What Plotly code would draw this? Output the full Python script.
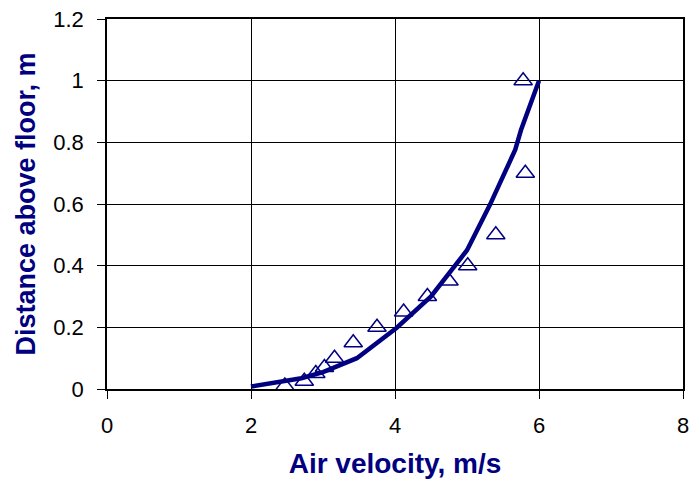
import plotly.graph_objects as go

# Model curve (line)
model_v = [2.0, 2.7, 3.0, 3.47, 4.02, 4.5, 5.0, 5.32, 5.67, 5.75, 6.0]
model_h = [0.008, 0.035, 0.055, 0.10, 0.198, 0.30, 0.45, 0.598, 0.776, 0.84, 1.0]

# Measured points (triangles)
meas_v = [2.47, 2.74, 2.90, 3.02, 3.16, 3.42, 3.75, 4.12, 4.45, 4.75, 5.01, 5.40, 5.81, 5.78]
meas_h = [0.01, 0.025, 0.05, 0.07, 0.10, 0.15, 0.20, 0.25, 0.30, 0.35, 0.40, 0.50, 0.70, 1.00]

x_ticks = [0, 2, 4, 6, 8]
y_ticks = [0, 0.2, 0.4, 0.6, 0.8, 1, 1.2]
y_tick_text = ["0", "0.2", "0.4", "0.6", "0.8", "1", "1.2"]

navy = "#000080"

fig = go.Figure()
fig.add_trace(go.Scatter(x=model_v, y=model_h, mode="lines",
                         line=dict(color=navy, width=4.5), showlegend=False))
fig.add_trace(go.Scatter(x=meas_v, y=meas_h, mode="markers",
                         marker=dict(symbol="triangle-up-open", size=16,
                                     color=navy, line=dict(width=1.5, color=navy)),
                         showlegend=False))

fig.update_layout(
    width=691, height=480,
    margin=dict(l=107, r=8, t=19, b=91),
    plot_bgcolor="white", paper_bgcolor="white",
    font=dict(family="Arial, Liberation Sans, sans-serif", size=22, color="black"),
)
fig.update_xaxes(
    range=[0, 8], tickvals=x_ticks, ticktext=[str(t) for t in x_ticks],
    tickfont=dict(size=22, color="black"), ticklabelstandoff=8,
    automargin=False,
    showgrid=True, gridcolor="black", gridwidth=1,
    showline=True, linecolor="black", linewidth=1.5, mirror=True,
    ticks="outside", ticklen=8, tickcolor="black",
    zeroline=False,
    title=dict(text="<b>Air velocity, m/s</b>", font=dict(size=28, color=navy), standoff=16),
)
fig.update_yaxes(
    range=[0, 1.2], tickvals=y_ticks, ticktext=y_tick_text,
    tickfont=dict(size=22, color="black"), ticklabelstandoff=9,
    automargin=False,
    showgrid=True, gridcolor="black", gridwidth=1,
    showline=True, linecolor="black", linewidth=1.5, mirror=True,
    ticks="outside", ticklen=8, tickcolor="black",
    zeroline=False,
    title=dict(text="<b>Distance above floor, m</b>", font=dict(size=27, color=navy), standoff=10),
)

fig.write_html("out.html")
